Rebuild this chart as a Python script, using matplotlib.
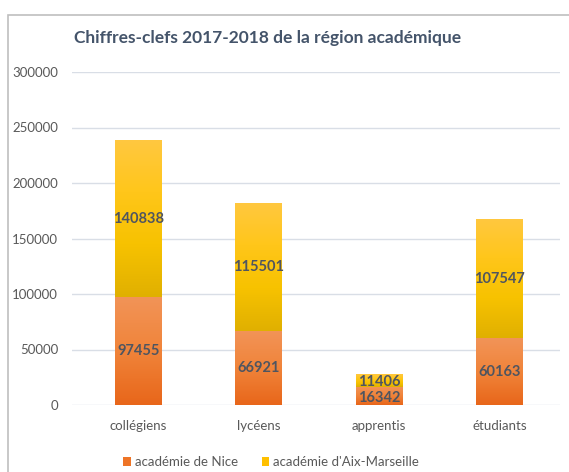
import matplotlib
matplotlib.use('Agg')
import matplotlib.pyplot as plt
import numpy as np
from matplotlib.colors import LinearSegmentedColormap
from matplotlib.patches import Rectangle, Patch

categories = ['collégiens', 'lycéens', 'apprentis', 'étudiants']
nice = [97455, 66921, 16342, 60163]
aix = [140838, 115501, 11406, 107547]
series_names = ['académie de Nice', "académie d'Aix-Marseille"]
title = 'Chiffres-clefs 2017-2018 de la région académique'

plt.rcParams['font.family'] = ['Lato', 'DejaVu Sans']

fig = plt.figure(figsize=(5.69, 4.72), dpi=100)
ax = fig.add_axes([72 / 569, 1 - 405 / 472, (560 - 72) / 569, (405 - 72) / 472])

# chart border (cropped screenshot: only left and top visible)
fig.add_artist(Rectangle((8 / 569, -0.1), 1.2, 1 - 15 / 472 + 0.1, transform=fig.transFigure,
                         fill=False, edgecolor='#BFBFBF', linewidth=1.2))

cmap_nice = LinearSegmentedColormap.from_list('nice', ['#E8661A', '#F0843A', '#F29458'])
cmap_aix = LinearSegmentedColormap.from_list('aix', ['#E0B000', '#F7C200', '#FFC61A', '#FFC840'])

x = np.arange(len(categories))
width = 0.39
grad = np.linspace(0, 1, 256).reshape(-1, 1)

b1 = ax.bar(x, nice, width, color='none', label=series_names[0], zorder=2)
b2 = ax.bar(x, aix, width, bottom=nice, color='none', label=series_names[1], zorder=2)

for bars, cmap in ((b1, cmap_nice), (b2, cmap_aix)):
    for r in bars:
        x0, y0 = r.get_x(), r.get_y()
        im = ax.imshow(grad, cmap=cmap, origin='lower', aspect='auto',
                       extent=(x0, x0 + r.get_width(), y0, y0 + r.get_height()), zorder=2)
        im.set_clip_path(r)

for i in range(len(categories)):
    shift = -1500 if i == 2 else 0
    ax.text(x[i], nice[i] / 2 + shift, f'{nice[i]}', ha='center', va='center',
            fontsize=10.5, fontweight='bold', color='#4F5560', zorder=3)
    ax.text(x[i], nice[i] + aix[i] / 2 + shift, f'{aix[i]}', ha='center', va='center',
            fontsize=10.5, fontweight='bold', color='#4F5560', zorder=3)

ax.set_xlim(-0.553, 3.504)
ax.set_ylim(0, 300000)
ax.set_yticks(range(0, 300001, 50000))
ax.set_xticks(x)
ax.set_xticklabels(categories)
ax.tick_params(axis='both', length=0, labelsize=9.5, labelcolor='#595959')
ax.tick_params(axis='y', pad=10)
ax.tick_params(axis='x', pad=11)
ax.grid(axis='y', color='#D9DEE6', linewidth=1, zorder=0)
ax.set_axisbelow(True)
for s in ax.spines.values():
    s.set_visible(False)

fig.text(268 / 569, 1 - 38 / 472, title, ha='center', va='center',
         fontsize=12.5, fontweight='bold', color='#44546A')

handles = [Patch(facecolor='#EE7426'), Patch(facecolor='#FFC000')]
fig.legend(handles, series_names, loc='center', bbox_to_anchor=(271 / 569, 1 - 462 / 472),
           ncol=2, frameon=False, fontsize=9.5, labelcolor='#595959',
           handlelength=0.6, handleheight=0.6, handletextpad=0.3, columnspacing=1.8)

fig.savefig('out.png', dpi=100)
